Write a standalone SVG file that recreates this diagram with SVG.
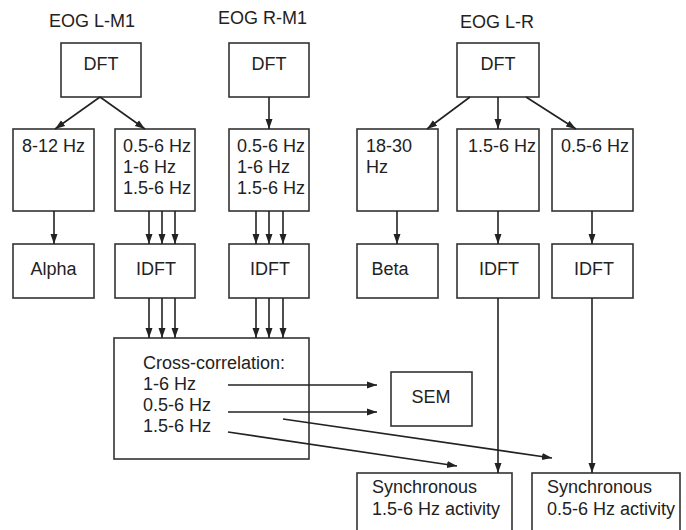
<svg xmlns="http://www.w3.org/2000/svg" width="686" height="530" viewBox="0 0 686 530">
<defs>
<style>
.box{fill:#fff;stroke:#333;stroke-width:1.6}
text{font-family:"Liberation Sans",Arial,sans-serif;font-size:18px;fill:#222}
.c{text-anchor:middle}
.con line{stroke:#222;stroke-width:1.6;fill:none}
.a{marker-end:url(#ah)}
</style>
<marker id="ah" markerUnits="userSpaceOnUse" markerWidth="10" markerHeight="10" viewBox="0 0 10 10" refX="10" refY="5" orient="auto">
<path d="M0,1.5 L10,5 L0,8.5 Z" fill="#222"/>
</marker>
</defs>
<rect width="686" height="530" fill="#fff"/>
<g id="labels">
<text x="49" y="27">EOG L-M1</text>
<text x="218" y="24">EOG R-M1</text>
<text x="460" y="28">EOG L-R</text>
</g>
<g id="dft-lm1"><rect class="box" x="61" y="43" width="80" height="54"/><text class="c" x="101" y="70">DFT</text></g>
<g id="dft-rm1"><rect class="box" x="229" y="43" width="80" height="54"/><text class="c" x="269" y="70">DFT</text></g>
<g id="dft-lr"><rect class="box" x="457" y="43" width="82" height="54"/><text class="c" x="498" y="70">DFT</text></g>
<g id="f-alpha"><rect class="box" x="13" y="129" width="81" height="82"/><text x="22" y="152">8-12 Hz</text></g>
<g id="f-lm1"><rect class="box" x="115" y="129" width="80" height="82"/><text x="123" y="152">0.5-6 Hz</text><text x="123" y="173">1-6 Hz</text><text x="123" y="194">1.5-6 Hz</text></g>
<g id="f-rm1"><rect class="box" x="229" y="129" width="80" height="82"/><text x="237" y="152">0.5-6 Hz</text><text x="237" y="173">1-6 Hz</text><text x="237" y="194">1.5-6 Hz</text></g>
<g id="f-beta"><rect class="box" x="357" y="129" width="81" height="82"/><text x="366" y="152">18-30</text><text x="366" y="173">Hz</text></g>
<g id="f-lr15"><rect class="box" x="457" y="129" width="82" height="82"/><text x="468" y="152">1.5-6 Hz</text></g>
<g id="f-lr05"><rect class="box" x="552" y="129" width="81" height="82"/><text x="561" y="152">0.5-6 Hz</text></g>
<g id="alpha"><rect class="box" x="13" y="244" width="81" height="54"/><text class="c" x="53.5" y="275">Alpha</text></g>
<g id="idft-lm1"><rect class="box" x="115" y="244" width="80" height="54"/><text class="c" x="156" y="275">IDFT</text></g>
<g id="idft-rm1"><rect class="box" x="229" y="244" width="80" height="54"/><text class="c" x="270" y="275">IDFT</text></g>
<g id="beta"><rect class="box" x="357" y="244" width="81" height="54"/><text class="c" x="390" y="275">Beta</text></g>
<g id="idft-lr15"><rect class="box" x="457" y="244" width="82" height="54"/><text class="c" x="499" y="275">IDFT</text></g>
<g id="idft-lr05"><rect class="box" x="552" y="244" width="81" height="54"/><text class="c" x="594" y="275">IDFT</text></g>
<g id="xcorr"><rect class="box" x="114" y="338" width="195" height="121"/><text x="143" y="369">Cross-correlation:</text><text x="143" y="390">1-6 Hz</text><text x="143" y="411">0.5-6 Hz</text><text x="143" y="432">1.5-6 Hz</text></g>
<g id="sem"><rect class="box" x="391" y="372" width="81" height="54"/><text class="c" x="431" y="403">SEM</text></g>
<g id="sync15"><rect class="box" x="357" y="473" width="155" height="70"/><text x="372" y="493">Synchronous</text><text x="372" y="515">1.5-6 Hz activity</text></g>
<g id="sync05"><rect class="box" x="532" y="473" width="148" height="70"/><text x="547" y="493">Synchronous</text><text x="547" y="515">0.5-6 Hz activity</text></g>
<g id="connectors" class="con">
<line class="a" x1="100" y1="97" x2="55" y2="129"/>
<line class="a" x1="100" y1="97" x2="145" y2="129"/>
<line class="a" x1="269" y1="97" x2="269" y2="129"/>
<line class="a" x1="470" y1="97" x2="427" y2="129"/>
<line class="a" x1="498" y1="97" x2="498" y2="129"/>
<line class="a" x1="526" y1="97" x2="576" y2="129"/>
<line class="a" x1="54" y1="211" x2="54" y2="244"/>
<line class="a" x1="149" y1="211" x2="149" y2="244"/>
<line class="a" x1="162" y1="211" x2="162" y2="244"/>
<line class="a" x1="175" y1="211" x2="175" y2="244"/>
<line class="a" x1="256" y1="211" x2="256" y2="244"/>
<line class="a" x1="269" y1="211" x2="269" y2="244"/>
<line class="a" x1="283" y1="211" x2="283" y2="244"/>
<line class="a" x1="397" y1="211" x2="397" y2="244"/>
<line class="a" x1="498" y1="211" x2="498" y2="244"/>
<line class="a" x1="592" y1="211" x2="592" y2="244"/>
<line class="a" x1="149" y1="298" x2="149" y2="338"/>
<line class="a" x1="162" y1="298" x2="162" y2="338"/>
<line class="a" x1="175" y1="298" x2="175" y2="338"/>
<line class="a" x1="256" y1="298" x2="256" y2="338"/>
<line class="a" x1="269" y1="298" x2="269" y2="338"/>
<line class="a" x1="283" y1="298" x2="283" y2="338"/>
<line class="a" x1="498" y1="298" x2="498" y2="473"/>
<line class="a" x1="592" y1="298" x2="592" y2="473"/>
<line class="a" x1="228" y1="385" x2="377" y2="385"/>
<line class="a" x1="228" y1="412" x2="377" y2="412"/>
<line class="a" x1="283" y1="419" x2="552" y2="458"/>
<line class="a" x1="228" y1="432" x2="457" y2="466"/>
</g>
</svg>
